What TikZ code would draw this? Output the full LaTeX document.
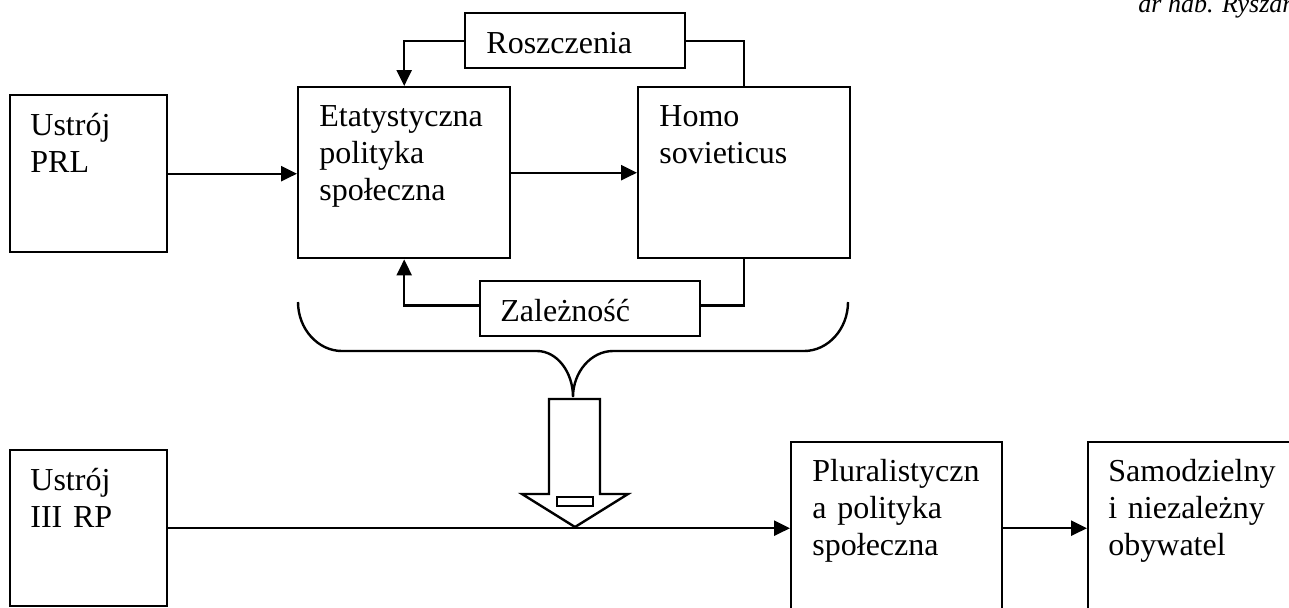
\documentclass[tikz,border=0pt]{standalone}
\usepackage{fontspec}
\setmainfont{Liberation Serif}
\usetikzlibrary{arrows.meta}

\tikzset{
  box/.style={draw, line width=1.2pt, rectangle, inner sep=0pt, anchor=north west},
  lbl/.style={anchor=base west, inner sep=0pt, text width=120pt, align=left,
              font=\fontsize{16}{18.5}\selectfont},
  conn/.style={line width=1.2pt},
  arr/.style={conn, -{Triangle[length=8pt, width=7.5pt]}},
}

\begin{document}
\begin{tikzpicture}[x=0.5pt, y=-0.5pt]
  \useasboundingbox (0,0) rectangle (1289,607);
  \clip (0,0) rectangle (1289,607);

  % header
  \node[anchor=base west, inner sep=0pt, font=\fontsize{13}{15}\selectfont\itshape]
    (hdr) at (1138,12) {dr hab. Ryszar};

  % upper row
  \node[box, minimum width=78.5pt, minimum height=78.5pt] (prl) at (9,94) {};
  \node[box, minimum width=106pt, minimum height=85.5pt] (etat) at (297,86) {};
  \node[box, minimum width=106pt, minimum height=85.5pt] (homo) at (637,86) {};
  \node[box, minimum width=110pt, minimum height=27.5pt] (rosz) at (464,12) {};
  \node[box, minimum width=110pt, minimum height=27.5pt] (zal) at (479,280) {};

  \node[lbl] (tprl) at (30,135) {Ustrój\\PRL};
  \node[lbl] (tetat) at (319,126) {Etatystyczna\\polityka\\społeczna};
  \node[lbl] (thomo) at (659,126) {Homo\\sovieticus};
  \node[lbl] (trosz) at (486,53) {Roszczenia};
  \node[lbl] (tzal) at (500,321) {Zależność};

  % lower row
  \node[box, minimum width=78.5pt, minimum height=78pt] (rp) at (9,449) {};
  \node[box, minimum width=105.5pt, minimum height=90pt] (plur) at (790,441) {};
  \node[box, minimum width=110pt, minimum height=90pt] (samo) at (1087,441) {};

  \node[lbl] (trp) at (30,490) {Ustrój\\III RP};
  \node[lbl] (tplur) at (812,481) {Pluralistyczn\\a polityka\\społeczna};
  \node[lbl] (tsamo) at (1108,481) {Samodzielny\\i niezależny\\obywatel};

  % upper connectors
  \draw[arr] (prl.east) -- (prl.east -| etat.west);
  \draw[arr] (etat.east) -- (etat.east -| homo.west);
  \draw[arr] (rosz.west) -| (etat.north);
  \draw[conn] (rosz.east) -| (homo.north);
  \draw[arr] ([yshift=1.7pt]zal.west) -| (etat.south);
  \draw[conn] ([yshift=1.7pt]zal.east) -| (homo.south);

  % brace gathering the loop
  \draw[line width=1.2pt]
    (298,302) .. controls (298,329) and (318,351) .. (342,351)
    -- (537,351) .. controls (557,351) and (573,372) .. (573,397)
    .. controls (573,372) and (591,351) .. (613,351)
    -- (804,351) .. controls (828,351) and (848,329) .. (848,302);

  % hollow transition arrow
  \draw[line width=1.2pt, fill=white]
    (549,399) -- (600,399) -- (600,494) -- (628,494) -- (575,527)
    -- (522,494) -- (549,494) -- cycle;
  \draw[line width=1.2pt] (557,497) rectangle (593,506);

  % lower connectors
  \draw[arr] (rp.east) -- (rp.east -| plur.west);
  \draw[arr] (rp.east -| plur.east) -- (rp.east -| samo.west);
\end{tikzpicture}
\end{document}
